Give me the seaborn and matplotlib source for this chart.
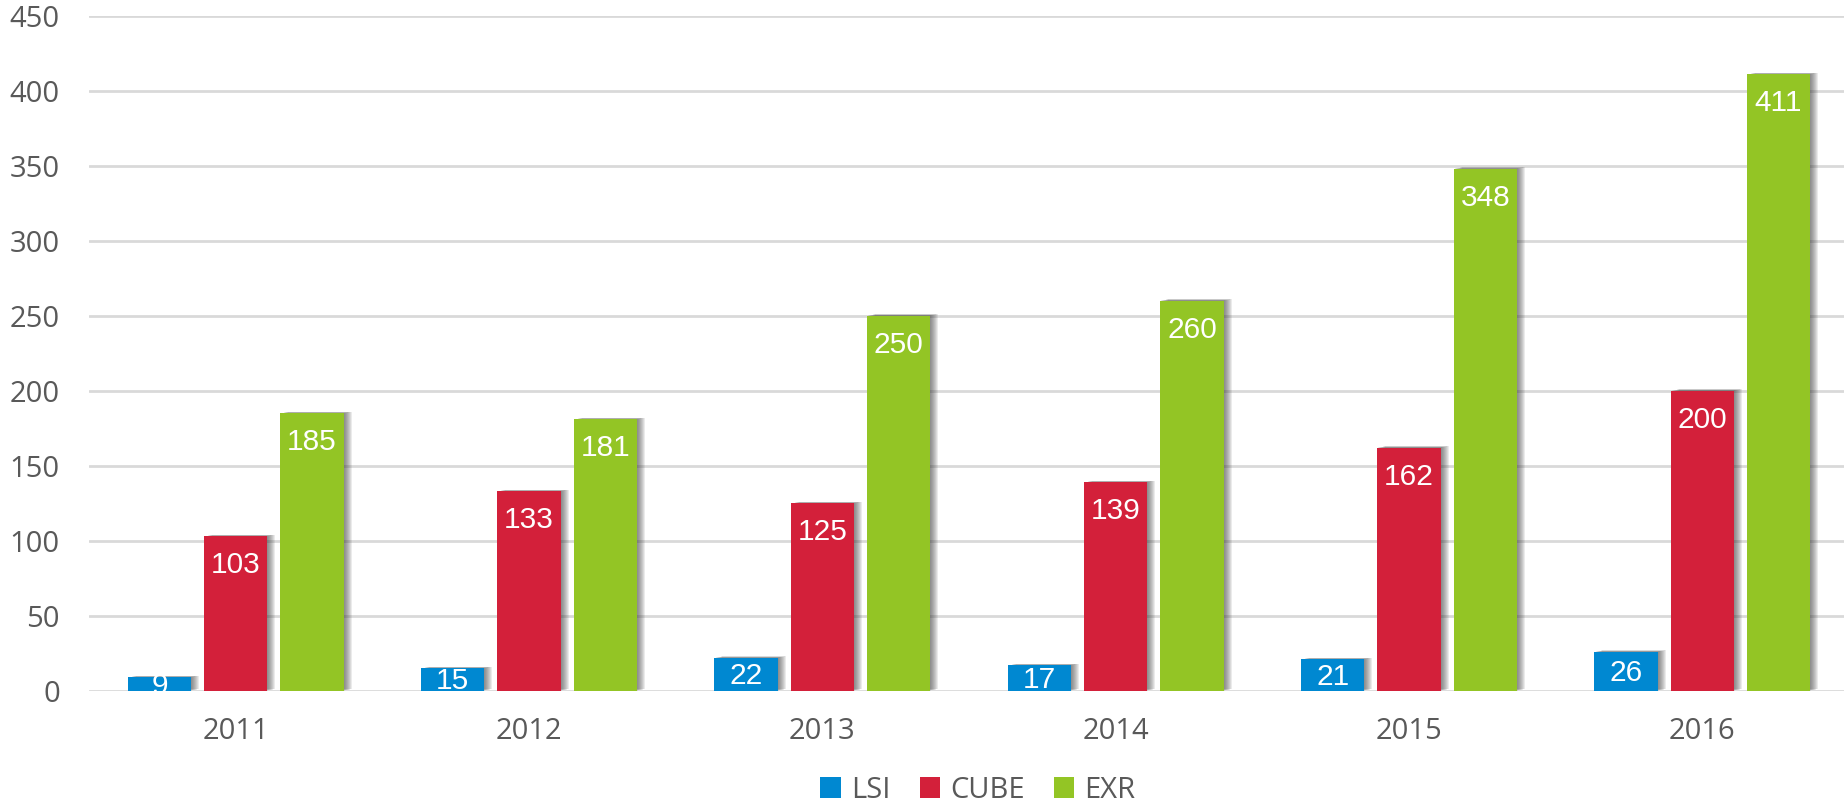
import matplotlib
matplotlib.use("Agg")
import matplotlib.pyplot as plt
import matplotlib.patheffects as pe
import seaborn as sns
import pandas as pd

years = ["2011", "2012", "2013", "2014", "2015", "2016"]
series = ["LSI", "CUBE", "EXR"]
lsi = [9, 15, 22, 17, 21, 26]
cube = [103, 133, 125, 139, 162, 200]
exr = [185, 181, 250, 260, 348, 411]
colors = ["#0088D1", "#D3203A", "#93C525"]

rows = []
for s, vals in zip(series, [lsi, cube, exr]):
    for y, v in zip(years, vals):
        rows.append({"year": y, "series": s, "value": v})
df = pd.DataFrame(rows)

sns.set_style("white")
plt.rcParams["font.family"] = ["Open Sans", "DejaVu Sans"]

fig = plt.figure(figsize=(18.44, 8.05), dpi=100)
ax = fig.add_axes([89 / 1844, (805 - 690.7) / 805, (1849 - 89) / 1844, 675 / 805])

sns.barplot(data=df, x="year", y="value", hue="series", order=years,
            hue_order=series, palette=colors, width=0.78, gap=0.17,
            saturation=1, ax=ax, legend=False, zorder=3)

px = 0.72  # points per pixel at dpi 100
shadow = []
for k in range(1, 9):
    shadow.append(pe.SimplePatchShadow(offset=(k * px, k * 0.2 * px),
                                       shadow_rgbFace="#404040", alpha=0.1))
shadow.append(pe.Normal())
for p in ax.patches:
    p.set_path_effects(shadow)
    p.set_linewidth(0)

units_per_px = 450 / 675
for cont in ax.containers:
    for bar in cont:
        h = bar.get_height()
        off_px = min(29, (h / units_per_px) / 2 + 2)
        ax.annotate(f"{int(round(h))}", xy=(bar.get_x() + bar.get_width() / 2, h),
                    xytext=(0, -off_px * px), textcoords="offset points",
                    ha="center", va="center", color="white", fontsize=21.5,
                    family=["Liberation Sans", "DejaVu Sans"], zorder=5,
                    annotation_clip=False)

ax.set_xlim(-0.5, 5.5)
ax.set_ylim(0, 450)
ax.set_yticks(range(0, 451, 50))
ax.yaxis.grid(True, color="#D9D9D9", linewidth=2, zorder=0)
ax.xaxis.grid(False)
ax.set_axisbelow(True)
for sp in ax.spines.values():
    sp.set_visible(False)
ax.tick_params(axis="y", length=0, pad=21, labelsize=21, labelcolor="#595959")
ax.tick_params(axis="x", length=0, pad=19, labelsize=21, labelcolor="#595959")
ax.set_xlabel("")
ax.set_ylabel("")

from matplotlib.patches import Patch
handles = [Patch(facecolor=c, edgecolor="none") for c in colors]
fig.legend(handles, series, loc="center", bbox_to_anchor=(978 / 1844, 1 - 790 / 805),
           ncol=3, frameon=False, fontsize=21, handlelength=0.7, handleheight=0.7,
           handletextpad=0.35, columnspacing=1.0, labelcolor="#595959")

fig.savefig("out.png", dpi=100)
